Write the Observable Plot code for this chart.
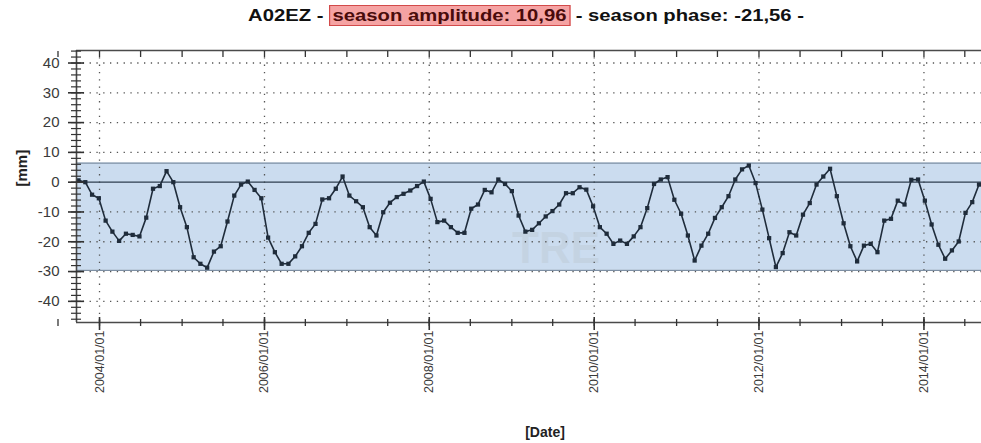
<!DOCTYPE html>
<html>
<head>
<meta charset="utf-8">
<script src="https://cdn.jsdelivr.net/npm/d3@7"></script>
<script src="https://cdn.jsdelivr.net/npm/@observablehq/plot@0.6"></script>
<style>
  html, body { margin: 0; padding: 0; background: #fff; }
  #wrap { width: 981px; height: 443px; overflow: hidden; font-family: "Liberation Sans", Arial, sans-serif; }
  #title { position: relative; height: 30px; }
  #title .inner { position: absolute; left: 526px; top: 6px; white-space: nowrap; font-weight: bold; font-size: 17px; line-height: 19px; color: #111;
                  transform: translateX(-50%) scaleX(1.19); transform-origin: center; }
  #title .hl { background: #f5a3a3; border: 1px solid #d24a4a; color: #4a0b0b; padding: 0 2px; }
  svg { display: block; }
</style>
</head>
<body>
<div id="wrap">
  <div id="title"><div class="inner"></div></div>
  <div id="chart"></div>
</div>
<script>
// ---- data ----
const stationId = "A02EZ";
const seasonAmplitude = "10,96";
const seasonPhase = "-21,56";
const sampleStart = "2003-09-30";   // first acquisition
const sampleStepDays = 30;          // acquisitions about every 30 days
const values = [
  0.6, 0, -4.2, -5.4, -12.9, -16.6, -19.7, -17.3, -17.7, -18.2,
  -11.9, -2.2, -1.3, 3.7, 0, -8.4, -15.1, -25.2, -27.4, -28.7,
  -23.3, -21.5, -13.2, -4.5, -0.8, 0.2, -2.6, -5.4, -18.6, -23.5,
  -27.4, -27.4, -24.9, -21.5, -17.0, -14.0, -5.8, -5.4, -2.2, 1.9,
  -4.5, -6.4, -8.4, -15.1, -17.9, -10.1, -6.9, -5.0, -3.9, -2.8,
  -1.3, 0.2, -5.6, -13.4, -12.9, -15.1, -17.0, -17.0, -8.9, -7.5,
  -2.6, -3.4, 0.9, -0.6, -3.0, -11.2, -16.6, -16.0, -13.8, -11.5,
  -9.7, -7.5, -3.7, -3.7, -1.7, -2.5, -8.1, -15.1, -17.3, -20.7,
  -19.6, -20.7, -18.2, -15.1, -8.7, -0.6, 0.9, 1.7, -5.9, -10.6,
  -17.9, -26.3, -21.3, -17.3, -12.0, -8.4, -4.7, 0.9, 4.3, 5.6,
  -0.3, -9.2, -18.8, -28.5, -23.8, -16.8, -17.9, -10.9, -7.0, -0.8,
  1.9, 4.5, -4.7, -13.8, -21.5, -26.6, -21.3, -20.7, -23.5, -12.9,
  -12.3, -6.2, -7.5, 0.8, 0.9, -6.2, -14.2, -21.0, -25.7, -22.9,
  -19.9, -10.3, -6.7, -0.8
];
const bandLow = -29.6;
const bandHigh = 6.4;
const yMajorTicks = [-40, -30, -20, -10, 0, 10, 20, 30, 40];
const yGridValues = [-40, -30, -20, -10, 10, 20, 30, 40];
const xMajorLabels = ["2004-01-01", "2006-01-01", "2008-01-01", "2010-01-01", "2012-01-01", "2014-01-01"];
const xDomain = ["2003-09-21", "2014-09-13"];
const yDomain = [-47.1, 44.2];

// ---- build ----
document.querySelector("#title .inner").innerHTML =
  `${stationId} - <span class="hl">season amplitude: ${seasonAmplitude}</span> - season phase: ${seasonPhase} -`;

const t0 = new Date(sampleStart);
const series = values.map((v, i) => ({date: d3.utcDay.offset(t0, i * sampleStepDays), value: v}));
const xD = xDomain.map(d => new Date(d));
const xMajor = xMajorLabels.map(d => new Date(d));
const xMinor = d3.utcMonth.every(6).range(new Date("2003-07-01"), xD[1]);
const yMinor = d3.range(-46, 45, 2);

const lineColor = "#1f2c3b";
const chart = Plot.plot({
  width: 981,
  height: 413,
  marginLeft: 76,
  marginRight: 0,
  marginTop: 20,
  marginBottom: 121,
  style: {fontFamily: "'Liberation Sans', Arial, sans-serif", background: "#fff", overflow: "visible"},
  x: {type: "utc", domain: xD, axis: null},
  y: {domain: yDomain, axis: null},
  marks: [
    Plot.rect([{x1: xD[0], x2: xD[1], y1: bandLow, y2: bandHigh}], {x1: "x1", x2: "x2", y1: "y1", y2: "y2", fill: "#cbdcef"}),
    Plot.text(["TRE"], {frameAnchor: "middle", dx: 27, dy: 62, fontSize: 44, fontWeight: "bold", fill: "#b9c3cc", fillOpacity: 0.35}),
    Plot.ruleY(yGridValues, {stroke: "#555", strokeWidth: 1.3, strokeDasharray: "1.3,5.5"}),
    Plot.ruleX(xMajor, {stroke: "#555", strokeWidth: 1.3, strokeDasharray: "1.3,6"}),
    Plot.ruleY([bandLow, bandHigh], {stroke: "#7d8fa3", strokeWidth: 1.2}),
    Plot.ruleY([0], {stroke: "#2e3e4f", strokeWidth: 1.3}),
    Plot.line(series, {x: "date", y: "value", stroke: lineColor, strokeWidth: 1.6}),
    Plot.dot(series, {x: "date", y: "value", symbol: "square", r: 2.4, fill: lineColor, stroke: "none"}),
    // frame
    Plot.ruleX([xD[0]], {stroke: "#4a4a4a", strokeWidth: 1.6}),
    Plot.ruleY([yDomain[0]], {stroke: "#4a4a4a", strokeWidth: 1.6}),
    Plot.ruleY([yDomain[1]], {stroke: "#4a4a4a", strokeWidth: 1.6}),
    // y ticks crossing the frame
    Plot.axisY({ticks: yMinor, tickSize: 10, dx: 5, tickFormat: () => "", stroke: "#333", strokeWidth: 1.2}),
    Plot.axisY({ticks: yMajorTicks, tickSize: 16, dx: 8, tickFormat: () => "", stroke: "#333", strokeWidth: 1.6}),
    Plot.axisY({ticks: yMajorTicks, tickSize: 0, tickPadding: 17, fontSize: 15, fill: "#3a3a3a", tickFormat: d => String(d), label: null}),
    // x ticks
    Plot.axisX({ticks: xMinor, tickSize: 7, dy: -3, tickFormat: () => "", stroke: "#333", strokeWidth: 1.3, label: null}),
    Plot.axisX({ticks: xMajor, tickSize: 13, dy: -5, tickFormat: () => "", stroke: "#333", strokeWidth: 1.6, label: null}),
    Plot.axisX({anchor: "top", ticks: xMinor, tickSize: 6, dy: 6, tickFormat: () => "", stroke: "#333", strokeWidth: 1.3, label: null}),
    Plot.axisX({ticks: xMajor, tickSize: 0, tickPadding: 8, tickRotate: -90, fontSize: 12.5, fill: "#3a3a3a", tickFormat: d3.utcFormat("%Y/%m/%d"), label: null}),
    // axis titles
    Plot.text(["[mm]"], {frameAnchor: "left", dx: -54, rotate: -90, fontSize: 15, fontWeight: "bold", fill: "#222"}),
    Plot.text(["[Date]"], {frameAnchor: "bottom", dx: 16, dy: 114, fontSize: 14, fontWeight: "bold", fill: "#222"})
  ]
});
document.getElementById("chart").appendChild(chart);
</script>
</body>
</html>
